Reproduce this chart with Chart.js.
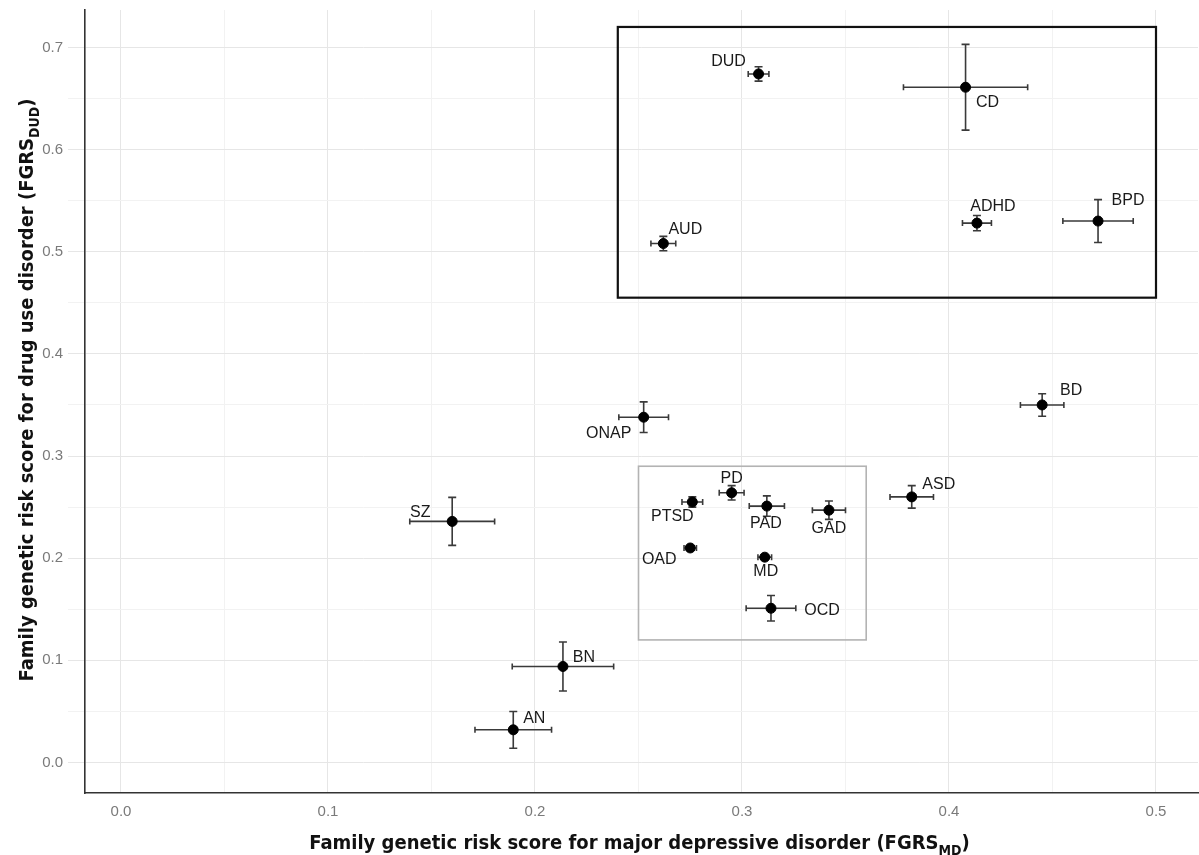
<!DOCTYPE html>
<html>
<head>
<meta charset="utf-8">
<script src="https://cdn.jsdelivr.net/npm/chart.js@4/dist/chart.umd.min.js"></script>
<style>
  html, body { margin: 0; padding: 0; background: #ffffff; }
  #wrap { width: 1199px; height: 855px; }
</style>
</head>
<body>
<div id="wrap"><canvas id="chart" width="1199" height="855"></canvas></div>
<script>
// Disorders plotted by their mean family genetic risk scores (± error)
const disorders = ['DUD', 'CD', 'AUD', 'ADHD', 'BPD', 'ONAP', 'BD', 'ASD', 'SZ',
                   'PD', 'PTSD', 'PAD', 'GAD', 'OAD', 'MD', 'OCD', 'BN', 'AN'];
const fgrsMD     = [0.308, 0.408, 0.262, 0.4135, 0.472, 0.2525, 0.445, 0.382, 0.160,
                    0.295, 0.276, 0.312, 0.342, 0.275, 0.311, 0.314, 0.2135, 0.1895];
const fgrsMDErr  = [0.005, 0.030, 0.006, 0.007, 0.017, 0.012, 0.0105, 0.0105, 0.0205,
                    0.006, 0.005, 0.0085, 0.008, 0.003, 0.0033, 0.012, 0.0245, 0.0185];
const fgrsDUD    = [0.674, 0.661, 0.508, 0.528, 0.530, 0.338, 0.350, 0.260, 0.236,
                    0.264, 0.255, 0.251, 0.247, 0.210, 0.201, 0.151, 0.094, 0.032];
const fgrsDUDErr = [0.007, 0.042, 0.007, 0.0075, 0.021, 0.015, 0.011, 0.011, 0.0235,
                    0.007, 0.005, 0.010, 0.009, 0.002, 0.002, 0.0125, 0.024, 0.018];

// Tick values (every 0.05 gets a grid line, every 0.1 a label)
const xTickValues = [0, 0.05, 0.1, 0.15, 0.2, 0.25, 0.3, 0.35, 0.4, 0.45, 0.5];
const yTickValues = [0, 0.05, 0.1, 0.15, 0.2, 0.25, 0.3, 0.35, 0.4, 0.45, 0.5, 0.55, 0.6, 0.65, 0.7];

// Highlighted groups: [xMin, xMax, yMin, yMax] in data units
const groupBoxes = [[0.240, 0.500, 0.455, 0.720], [0.250, 0.360, 0.120, 0.290]];
const groupBoxColors = ['#111111', '#b3b3b3'];
const groupBoxWidths = [2.2, 1.6];

// Label placement relative to its point, in pixels (dx, dy to label centre)
const labelOffsets = [[-30, -12], [22, 15], [22, -14], [16, -17], [30, -20], [-35, 16],
                      [29, -14], [27, -12], [-32, -9], [0, -14], [-20, 15], [-1, 18],
                      [0, 18], [-31, 12], [1, 14], [51, 2], [21, -9], [21, -11]];

const points = disorders.map((d, i) => ({ x: fgrsMD[i], y: fgrsDUD[i] }));

const isMajor = v => Math.abs(v * 10 - Math.round(v * 10)) < 1e-6;

const boxesPlugin = {
  id: 'groupBoxes',
  beforeDatasetsDraw(chart) {
    const { ctx, scales: { x, y } } = chart;
    ctx.save();
    groupBoxes.forEach((b, i) => {
      const x0 = x.getPixelForValue(b[0]), x1 = x.getPixelForValue(b[1]);
      const y0 = y.getPixelForValue(b[3]), y1 = y.getPixelForValue(b[2]);
      ctx.strokeStyle = groupBoxColors[i];
      ctx.lineWidth = groupBoxWidths[i];
      ctx.strokeRect(x0, y0, x1 - x0, y1 - y0);
    });
    ctx.restore();
  }
};

const errorBarPlugin = {
  id: 'errorBars',
  beforeDatasetsDraw(chart) {
    const { ctx, scales: { x, y } } = chart;
    ctx.save();
    ctx.strokeStyle = '#3a3a3a';
    ctx.lineWidth = 1.6;
    const cap = 4;
    disorders.forEach((d, i) => {
      const px = x.getPixelForValue(fgrsMD[i]);
      const py = y.getPixelForValue(fgrsDUD[i]);
      const xl = x.getPixelForValue(fgrsMD[i] - fgrsMDErr[i]);
      const xr = x.getPixelForValue(fgrsMD[i] + fgrsMDErr[i]);
      const yt = y.getPixelForValue(fgrsDUD[i] + fgrsDUDErr[i]);
      const yb = y.getPixelForValue(fgrsDUD[i] - fgrsDUDErr[i]);
      ctx.beginPath();
      ctx.moveTo(xl, py); ctx.lineTo(xr, py);
      ctx.moveTo(xl, py - 3); ctx.lineTo(xl, py + 3);
      ctx.moveTo(xr, py - 3); ctx.lineTo(xr, py + 3);
      ctx.moveTo(px, yt); ctx.lineTo(px, yb);
      ctx.moveTo(px - cap, yt); ctx.lineTo(px + cap, yt);
      ctx.moveTo(px - cap, yb); ctx.lineTo(px + cap, yb);
      ctx.stroke();
    });
    ctx.restore();
  }
};

const labelPlugin = {
  id: 'pointLabels',
  afterDatasetsDraw(chart) {
    const { ctx, scales: { x, y } } = chart;
    ctx.save();
    ctx.font = '16px "Liberation Sans", Arial, sans-serif';
    ctx.fillStyle = '#1a1a1a';
    ctx.textAlign = 'center';
    ctx.textBaseline = 'middle';
    disorders.forEach((d, i) => {
      const px = x.getPixelForValue(fgrsMD[i]);
      const py = y.getPixelForValue(fgrsDUD[i]);
      ctx.fillText(d, px + labelOffsets[i][0], py + labelOffsets[i][1]);
    });
    ctx.restore();
  }
};

// Axis titles with subscripts
function drawSubscripted(ctx, parts, cx, cy, size, family) {
  const mainFont = 'bold ' + size + 'px ' + family;
  const subFont = 'bold ' + Math.round(size * 0.68) + 'px ' + family;
  let total = 0;
  parts.forEach(p => { ctx.font = p.sub ? subFont : mainFont; total += ctx.measureText(p.t).width; });
  let xPos = cx - total / 2;
  parts.forEach(p => {
    ctx.font = p.sub ? subFont : mainFont;
    ctx.fillText(p.t, xPos, p.sub ? cy + size * 0.3 : cy);
    xPos += ctx.measureText(p.t).width;
  });
}

const titleFamily = '"DejaVu Sans Condensed", "Liberation Sans Narrow", "Roboto", sans-serif';
const axisTitlePlugin = {
  id: 'axisTitles',
  afterDraw(chart) {
    const { ctx, chartArea } = chart;
    ctx.save();
    ctx.fillStyle = '#111111';
    ctx.textAlign = 'left';
    ctx.textBaseline = 'alphabetic';
    drawSubscripted(ctx, [
      { t: 'Family genetic risk score for major depressive disorder (FGRS' },
      { t: 'MD', sub: true },
      { t: ')' }
    ], (chartArea.left + chartArea.right) / 2 - 2, 849, 20, titleFamily);
    ctx.translate(33, 390);
    ctx.rotate(-Math.PI / 2);
    drawSubscripted(ctx, [
      { t: 'Family genetic risk score for drug use disorder (FGRS' },
      { t: 'DUD', sub: true },
      { t: ')' }
    ], 0, 0, 20, titleFamily);
    ctx.restore();
  }
};

const gridColor = ctx => isMajor(ctx.tick.value) ? '#e6e6e6' : '#f2f2f2';

new Chart(document.getElementById('chart'), {
  type: 'scatter',
  data: {
    datasets: [{
      data: points,
      backgroundColor: '#000000',
      borderColor: '#000000',
      pointRadius: 5,
      pointHoverRadius: 5
    }]
  },
  options: {
    responsive: false,
    animation: false,
    devicePixelRatio: 1,
    layout: { autoPadding: false, padding: { top: 10, right: 1, left: 0, bottom: 0 } },
    plugins: { legend: { display: false }, tooltip: { enabled: false } },
    scales: {
      x: {
        type: 'linear',
        min: -0.01739,
        max: 0.52029,
        afterBuildTicks: axis => { axis.ticks = xTickValues.map(v => ({ value: v })); },
        afterFit: scale => {
          scale.height = 62;
          scale.paddingLeft = 0; scale.paddingRight = 0;
        },
        grid: { drawTicks: false, color: gridColor, lineWidth: 1 },
        border: { display: true, color: '#333333', width: 1.6 },
        ticks: {
          padding: 10,
          color: '#7a7a7a',
          font: { family: '"Liberation Sans", Arial, sans-serif', size: 15 },
          callback: v => isMajor(v) ? v.toFixed(1) : ''
        }
      },
      y: {
        type: 'linear',
        min: -0.02985,
        max: 0.7366,
        afterBuildTicks: axis => { axis.ticks = yTickValues.map(v => ({ value: v })); },
        afterFit: scale => {
          scale.width = 85;
          scale.paddingTop = 0; scale.paddingBottom = 0;
        },
        grid: { drawTicks: true, tickLength: 17, color: gridColor, tickColor: gridColor, lineWidth: 1 },
        border: { display: true, color: '#333333', width: 1.6 },
        ticks: {
          padding: 5,
          color: '#7a7a7a',
          font: { family: '"Liberation Sans", Arial, sans-serif', size: 15 },
          callback: v => isMajor(v) ? v.toFixed(1) : ''
        }
      }
    }
  },
  plugins: [boxesPlugin, errorBarPlugin, labelPlugin, axisTitlePlugin]
});
</script>
</body>
</html>
